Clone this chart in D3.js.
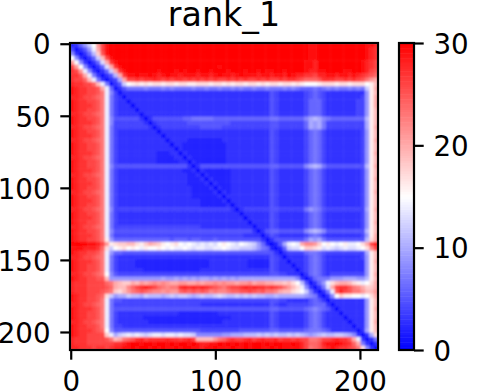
<!DOCTYPE html>
<html>
<head>
<meta charset="utf-8">
<script src="https://cdn.jsdelivr.net/npm/d3@7"></script>
<style>
  body { margin: 0; background: #fff; }
  text { font-family: "DejaVu Sans", sans-serif; }
</style>
</head>
<body>
<div id="chart"></div>
<script>
// predicted error, one letter per 3 residues, base 36 (0-9, a=10 ... u=30)
const paeRows = [
"2369cflqtu uuuuuuuuuu uuuuuuuuuu uuuuuuuuuu uuuuuuuuuu uuuuuttuuu uuuuuuuutt s",
"41359ekqtu uuuuuuuuuu uuuuuuuuuu uuuuuuuuuu uuuuuuuuuu uuuuuttuuu uuuuuuuuts r",
"83136biptu uuuuuuuuuu uuuuuuuuuu uuuuuuuuuu uuuuuuuuuu uuuuuttuuu uuuuuuuuts r",
"f83136cjqt uuuuuuuuuu uuuuuuuuuu uuuuuuuuuu uuuuuuuuuu uuuuuttuuu uuuuuuuuts r",
"lf83136dkr tuuuuuuuuu uuuuuuuuuu uuuuuuuuuu uuuuuuuuuu uuuuttsuuu uuuuuuutsr q",
"qlf83136dk rtuuuuuuuu uuuuuuuuuu uuuutuuuuu uuuuuuuuuu uuuuttsuuu uuuuuuutsr q",
"rqle83136c krtuuuuuuu tuuututuut uutuuutuuu tuututtuut uuuutssttu uuuttuutsq p",
"rrpke73135 bkrttuttut stuttsttts ttstuttstu tttsttstts utssrrqsst tsttstsrqp o",
"rqqoje7313 4akqqrqrrs rqrqrrqrqr qrqrqqrqrq rqqrqrqqrq rrqpoooprr rqqrqrqpnl k",
"srrqqoje71 35cfghghgh hghhghhggh hhghhghghh ghhghghhgh hghgfffghh hghhghhhfg j",
"tsrrqqpke6 1357777877 7878777787 7877877878 7787787778 7876667678 78778787cg k",
"tsrrqqpne8 4133333333 3333333333 3333333333 3333335433 3333456543 333333339g j",
"ssrqqpone7 4313333333 3333333333 3333333333 3333335433 3333456543 333333349g k",
"tsrrqqpne7 4331333333 3333333333 3333333333 3333335433 3333466643 333333449g k",
"tsrrrqpne7 4333133333 3333333333 3333333333 3333335433 3333466643 333333449g k",
"tsrrqqpne7 4333313333 3333333333 3333333333 3333335433 3333466643 333333449g j",
"ssrqqpone7 4333331333 3333333333 3333333333 3333335433 3333466643 333333449g j",
"tsrrqqpne8 5555553135 5555556677 7776666666 6666667766 66668aba87 66666666bg j",
"tsrrrqpne8 4444444313 4444444555 5555555444 4444445544 44446a9a74 44444444ag j",
"ssrqqpone7 4444444431 3444444444 5555544444 4444445544 44446a9a74 44444444ag k",
"tsrrqqpne7 4333333333 1333333333 3333333333 3333335433 3333467643 333333349g j",
"tsrrrqpne7 4333333333 3133333333 3333333333 3333335433 3333467643 333333349g j",
"ssrqqpone7 4333333333 3313333222 2222233333 3333335433 3333467643 333333349g k",
"tsrrqqpne7 4333333333 3331332222 2222223333 3333335433 3333467643 333333349g j",
"tsrrqqpne7 4333333333 3333132222 2222223333 3333335433 3333467643 333333349g j",
"tsrrrqpne7 4333333333 2223313222 2222223333 3333335433 3333467643 333333349g k",
"ssrqqpone7 4333333333 2222331322 2222223333 3333335433 3333467643 333333349g j",
"tsrrqqpne7 4333333333 2222233132 2222223333 3333335433 3333467643 333333349g j",
"tsrrqqpne8 5555555555 5555555313 5555555555 5555556655 55558aba75 55555555bg k",
"tsrrrqpne7 4333333333 3333332231 3222222333 3333335433 3333467643 333333349g j",
"ssrqqpone7 4333333333 3333333223 1322222333 3333335433 3333467643 333333349g j",
"tsrrqqpne7 4333333333 3333333222 3132222333 3333335433 3333467643 333333349g k",
"tsrrrqpne7 4333333333 3333333222 2313222333 3333335433 3333467643 333333349g j",
"tsrrqqpne7 4333333333 3333333322 2231322333 3333335433 3333467643 333333349g j",
"ssrqqpone7 4333333333 3333333322 2223132333 3333335433 3333467643 333333349g k",
"tsrrqqpne7 4333333333 3333333322 2222313333 3333335433 3333467643 333333349g j",
"tsrrrqpne7 4333333333 3333333333 2222231333 3333335433 3333467643 333333349g j",
"tsrrqqpne7 4333333333 3333333333 2222223133 3333335433 3333467643 333333349g j",
"ssrqqpone8 4444444444 4444444444 4444444313 4444445544 4444798754 44444444ag k",
"tsrrqqpne7 4333333333 3333333333 3333333331 3333335433 3333467643 333333349g j",
"tsrrrqpne7 4333333333 3333333333 3333333333 1333335433 3333467643 333333349g j",
"tsrrqqpne7 4333333333 3333333333 3333333333 3133335433 3333467643 333333349g k",
"ssrqqpone7 4444444444 4444444444 3333333333 3313335433 3333467643 333333349g j",
"tsrrqqpne8 5555555555 5555555555 5555555555 5531356655 55558aba85 55555555bg j",
"tsrrrqpne7 4444444444 4444444444 4444444444 3333135433 3333467643 333333349g k",
"tsrrqqpng9 6666666666 6665666566 5556555555 5555313555 55557a9a75 55555555bh k",
"uuuuttsqlg hiijjhgikj igfghfefed ededfgfedf edc962125a efekmmlifg fefgeefhkq s",
"tttsssrohc fghfgfegff gfefeefede eddeefeddc ccb9762126 cddfiihgde dcdeddefhm q",
"tsrrqqpne9 6655555555 5555555555 5555555555 5555555313 4444677654 44444444ag j",
"ssrqqpone7 4333333333 3333333333 3333333333 3333335431 3333467643 333333349g j",
"tsrrrqpne7 4333322222 2222222222 2233333333 3222225433 1333467643 333333339g k",
"tsrrqqpne7 4333322222 2222222222 2233333333 3222225433 3133467643 333333339g j",
"tsrrqqpne7 4333333222 2222222222 3333333333 3333335433 3313467643 333333339g j",
"ssrqqponf8 5444444444 4444444444 4444444444 4444445544 3331367643 444444449g k",
"tsrrqqppj9 9999999999 9a99a9a9a9 aa9a9a9a9a aaaaaaaaaa aa83136777 999aaa99bg j",
"srrrqqqqon kjiikjlklm lmlkkllkkl kllmlmllkl lmkllkkjji jhfb51369e hjkkjhgefh k",
"srrrqqqqpo kjjmoqrsrq onmnnrsrsr srqponpqqr srsrrqrqpn ljhe83137d kqrrpnmkii k",
"srrrqqqpon ihjlnoponm mlmllopopo pomnmmnoop pqpopnnmkj jhgfc73137 epsqpnnljj l",
"tsrrqqpohc 9aacbbacbb babcbccbab cbbcdcbbcb cbcbbaabaa aaaa987313 8figgffefh k",
"tsrrqqpne7 5544444444 4444444444 4444444444 4444445544 3333356531 333333339g j",
"ssrqqpone7 4444444444 4444444444 3333333333 3333335433 4444456663 133333339g j",
"tsrrrqpne7 5555555555 5555555555 5555555555 5555556655 5555678765 313333339g k",
"tsrrqqpne7 4333333333 3333322222 2222333333 3333335433 3333467643 331333339g j",
"tsrrqqpne7 4333333222 2222222222 2222222333 3333335433 3333467643 333133339g j",
"ssrqqpone7 4333333322 2222222222 2222233333 3333335433 3333467643 333313339g k",
"tsrrqqpne7 4433333333 3333333333 3333333333 3333335433 3333467643 333331339g j",
"tsrrrqpof8 5555555555 5555555555 4444444445 5555556655 5555677765 33333313ag j",
"tsrrqqqqie acdededcde edeededdc8 8888899aaa bbbcbcbcbb cbcba9abcb bccba8313a h",
"srrrqqqqpn jknoprsqrr rrsrrqrsqj jjjlnoqrqq rsqrsrrsqr rqrqqnnoqq rsrrpke313 7",
"srrrqqqqqq rrstuutuut uututuutut ssttututut utuututuut tutsqoopst tutsrok731 3",
"ssrrrqrrqr ssttutuutu tuttutuutt sttutttutt utuuttutut tttsqnoprs tsrrqpnh83 1"
];
const residueStep = 3;
const residueCount = 213;
const xTicks = [0, 100, 200];
const yTicks = [0, 50, 100, 150, 200];
const colorTicks = [0, 10, 20, 30];
const colorStops = [0, 15, 30];
const colorRange = ["#0000ff", "#ffffff", "#ff0000"];
const title = "rank_1";

const width = 484, height = 392;
const margin = {top: 43, left: 70, right: 378, bottom: 350};
const bar = {left: 399, right: 414};

const svg = d3.select("#chart").append("svg")
    .attr("width", width)
    .attr("height", height);

const x = d3.scaleLinear().domain([-0.5, residueCount - 0.5]).range([margin.left, margin.right]);
const y = d3.scaleLinear().domain([-0.5, residueCount - 0.5]).range([margin.top, margin.bottom]);
const color = d3.scaleLinear().domain(colorStops).range(colorRange);

const defs = svg.append("defs");
defs.append("clipPath").attr("id", "plotClip")
    .append("rect")
    .attr("x", margin.left).attr("y", margin.top)
    .attr("width", margin.right - margin.left)
    .attr("height", margin.bottom - margin.top);
// the original is drawn finer than this table, soften the block edges a little
defs.append("filter").attr("id", "soften")
    .attr("x", "-2%").attr("y", "-2%").attr("width", "104%").attr("height", "104%")
    .append("feGaussianBlur").attr("stdDeviation", 0.9);

const cells = [];
paeRows.forEach(function(row, r) {
    row.replace(/ /g, "").split("").forEach(function(ch, c) {
        cells.push({r: r, c: c, value: parseInt(ch, 36)});
    });
});

svg.append("g")
    .attr("clip-path", "url(#plotClip)")
    .append("g")
    .attr("filter", "url(#soften)")
    .selectAll("rect")
    .data(cells)
    .join("rect")
    .attr("x", d => x(d.c * residueStep - 0.5))
    .attr("y", d => y(d.r * residueStep - 0.5))
    .attr("width", x(residueStep) - x(0) + 0.5)
    .attr("height", y(residueStep) - y(0) + 0.5)
    .attr("fill", d => color(d.value));

function styleAxis(g) {
    g.select(".domain").remove();
    g.selectAll(".tick line").attr("stroke", "#000").attr("stroke-width", 2.2);
    g.selectAll(".tick text")
        .attr("fill", "#000")
        .style("font-size", "27.7px")
        .style("font-family", "'DejaVu Sans', sans-serif");
}

svg.append("g")
    .attr("transform", "translate(0," + margin.bottom + ")")
    .call(d3.axisBottom(x).tickValues(xTicks).tickSize(9.7).tickPadding(12))
    .call(styleAxis);

svg.append("g")
    .attr("transform", "translate(" + margin.left + ",0)")
    .call(d3.axisLeft(y).tickValues(yTicks).tickSize(9.7).tickPadding(9.7))
    .call(styleAxis)
    .call(g => g.selectAll(".tick text").attr("dy", "0.37em"));

svg.append("rect")
    .attr("x", margin.left).attr("y", margin.top)
    .attr("width", margin.right - margin.left)
    .attr("height", margin.bottom - margin.top)
    .attr("fill", "none")
    .attr("stroke", "#000")
    .attr("stroke-width", 2.2);

svg.append("text")
    .attr("x", (margin.left + margin.right) / 2)
    .attr("y", 26)
    .attr("text-anchor", "middle")
    .attr("font-size", "33.3px")
    .text(title);

// colorbar
const barScale = d3.scaleLinear().domain([0, 30]).range([margin.bottom, margin.top]);
svg.append("g")
    .selectAll("rect")
    .data(d3.range(0, 30, 0.25))
    .join("rect")
    .attr("x", bar.left)
    .attr("width", bar.right - bar.left)
    .attr("y", d => barScale(d + 0.25))
    .attr("height", barScale(0) - barScale(0.25) + 0.5)
    .attr("fill", d => color(d + 0.125));

svg.append("g")
    .attr("transform", "translate(" + bar.right + ",0)")
    .call(d3.axisRight(barScale).tickValues(colorTicks).tickSize(9.7).tickPadding(9.7))
    .call(styleAxis)
    .call(g => g.selectAll(".tick text").attr("dy", "0.37em"));

svg.append("rect")
    .attr("x", bar.left).attr("y", margin.top)
    .attr("width", bar.right - bar.left)
    .attr("height", margin.bottom - margin.top)
    .attr("fill", "none")
    .attr("stroke", "#000")
    .attr("stroke-width", 2.2);
</script>
</body>
</html>
